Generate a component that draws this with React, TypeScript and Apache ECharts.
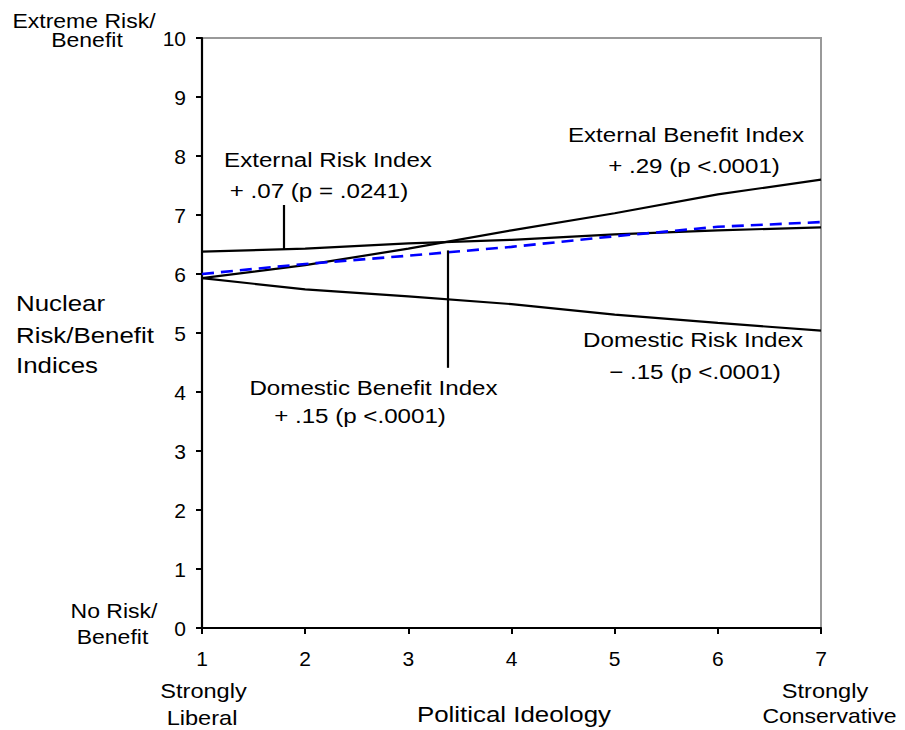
import React, { useEffect, useRef } from "react";
import * as echarts from "echarts";

const ideology = [1, 2, 3, 4, 5, 6, 7];
const externalRisk = [6.38, 6.43, 6.52, 6.58, 6.67, 6.74, 6.79];
const externalBenefit = [5.93, 6.15, 6.43, 6.74, 7.03, 7.35, 7.6];
const domesticRisk = [5.93, 5.74, 5.62, 5.49, 5.31, 5.17, 5.04];
const domesticBenefit = [6.0, 6.17, 6.31, 6.46, 6.64, 6.8, 6.88];

const yTicks = [0, 1, 2, 3, 4, 5, 6, 7, 8, 9, 10];

// pointer leader lines (data coordinates)
const extRiskPointer = [[1.795, 7.17], [1.795, 6.42]];
const domBenefitPointer = [[3.38, 6.4], [3.38, 4.41]];

const FONT = "'Liberation Sans', Arial, Helvetica, sans-serif";
const SX = 1.15;

type T = { t: string; x: number; y: number; s: number; a?: string };
const texts: T[] = [
  { t: "Extreme Risk/", x: 84, y: 21, s: 20 },
  { t: "Benefit", x: 87, y: 40, s: 20 },
  { t: "No Risk/", x: 114, y: 611, s: 20 },
  { t: "Benefit", x: 112.5, y: 637, s: 20 },
  { t: "Nuclear", x: 16, y: 303.5, s: 22.5, a: "left" },
  { t: "Risk/Benefit", x: 16, y: 335, s: 22.5, a: "left" },
  { t: "Indices", x: 16, y: 365, s: 22.5, a: "left" },
  { t: "Strongly", x: 203.5, y: 691, s: 20.5 },
  { t: "Liberal", x: 202, y: 718, s: 20.5 },
  { t: "Political Ideology", x: 514, y: 714, s: 22.5 },
  { t: "Strongly", x: 825, y: 691, s: 20.5 },
  { t: "Conservative", x: 829.5, y: 716, s: 20 },
  { t: "External Risk Index", x: 328, y: 160, s: 21 },
  { t: "+ .07 (p = .0241)", x: 319, y: 191.5, s: 21 },
  { t: "External Benefit Index", x: 686, y: 135, s: 21 },
  { t: "+ .29 (p <.0001)", x: 694, y: 166, s: 21 },
  { t: "Domestic Risk Index", x: 693, y: 340, s: 21 },
  { t: "\u2212 .15 (p <.0001)", x: 695, y: 372, s: 21 },
  { t: "Domestic Benefit Index", x: 373.5, y: 388, s: 21 },
  { t: "+ .15 (p <.0001)", x: 360, y: 416, s: 21 },
];

export default function App() {
  const ref = useRef<HTMLDivElement>(null);
  useEffect(() => {
    if (!ref.current) return;
    const chart = echarts.init(ref.current, null, { renderer: "svg" });
    const pair = (xs: number[], ys: number[]) => xs.map((x, i) => [x, ys[i]]);
    const blackLine = { color: "#000", width: 2.2, type: "solid" as const };
    chart.setOption({
      animation: false,
      backgroundColor: "#fff",
      grid: {
        left: 202,
        right: 84,
        top: 38,
        bottom: 102,
        show: true,
        borderColor: "#999",
        borderWidth: 2,
        backgroundColor: "transparent",
      },
      xAxis: {
        type: "value",
        min: 1,
        max: 7,
        interval: 1,
        axisLine: { show: true, onZero: false, lineStyle: { color: "#000", width: 2.2 } },
        axisTick: { show: true, inside: false, length: 6, lineStyle: { color: "#000", width: 2 } },
        splitLine: { show: false },
        axisLabel: { color: "#000", fontSize: 21, fontFamily: FONT, margin: 20 },
      },
      yAxis: {
        type: "value",
        min: 0,
        max: 10,
        interval: 1,
        axisLine: { show: true, onZero: false, lineStyle: { color: "#000", width: 2.2 } },
        axisTick: { show: true, inside: false, length: 6, lineStyle: { color: "#000", width: 2 } },
        splitLine: { show: false },
        axisLabel: {
          color: "#000",
          fontSize: 21,
          fontFamily: FONT,
          margin: 16,
          formatter: (v: number) => (yTicks.includes(v) ? String(v) : ""),
        },
      },
      series: [
        {
          name: "External Risk Index",
          type: "line",
          data: pair(ideology, externalRisk),
          showSymbol: false,
          lineStyle: blackLine,
          z: 3,
          markLine: {
            silent: true,
            symbol: "none",
            label: { show: false },
            lineStyle: blackLine,
            data: [
              [{ coord: extRiskPointer[0] }, { coord: extRiskPointer[1] }],
              [{ coord: domBenefitPointer[0] }, { coord: domBenefitPointer[1] }],
            ],
          },
        },
        {
          name: "External Benefit Index",
          type: "line",
          data: pair(ideology, externalBenefit),
          showSymbol: false,
          lineStyle: blackLine,
          z: 3,
        },
        {
          name: "Domestic Risk Index",
          type: "line",
          data: pair(ideology, domesticRisk),
          showSymbol: false,
          lineStyle: blackLine,
          z: 3,
        },
        {
          name: "Domestic Benefit Index",
          type: "line",
          data: pair(ideology, domesticBenefit),
          showSymbol: false,
          lineStyle: { color: "#0000ff", width: 2.6, type: [12, 7] },
          z: 4,
        },
      ],
      graphic: texts.map((t) => ({
        type: "text",
        x: t.x,
        y: t.y,
        scaleX: SX,
        silent: true,
        style: {
          text: t.t,
          x: 0,
          y: 0,
          fill: "#000",
          fontSize: t.s,
          fontFamily: FONT,
          textAlign: t.a || "center",
          align: t.a || "center",
          textVerticalAlign: "middle",
          verticalAlign: "middle",
        },
      })),
    });
    return () => chart.dispose();
  }, []);
  return (
    <div
      ref={ref}
      style={{ position: "absolute", left: 0, top: 0, width: 905, height: 730 }}
    />
  );
}
